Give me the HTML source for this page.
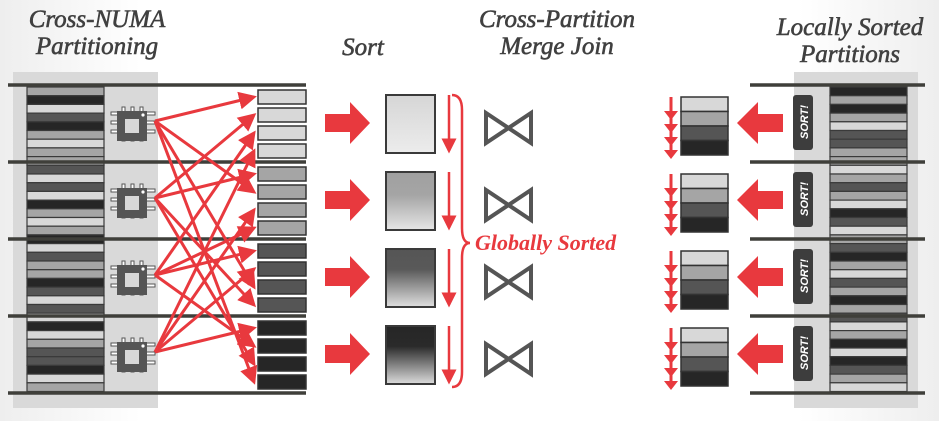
<!DOCTYPE html>
<html><head><meta charset="utf-8"><style>
html,body{margin:0;padding:0;background:#fff}
svg{display:block}
.h{font-family:"Liberation Serif",serif;font-style:italic;fill:#404040;stroke:#404040;stroke-width:0.6;font-size:25px;text-anchor:middle}
</style></head><body>
<svg id="s" width="939" height="421" viewBox="0 0 939 421" xmlns="http://www.w3.org/2000/svg">
<defs>
<linearGradient id="bg" x1="0" x2="1"><stop offset="0" stop-color="#eeeeee"/><stop offset="0.15" stop-color="#fff"/><stop offset="0.85" stop-color="#fff"/><stop offset="1" stop-color="#eeeeee"/></linearGradient>
<linearGradient id="g0" x1="0" y1="0" x2="0" y2="1"><stop offset="0" stop-color="#d6d6d6"/><stop offset="1" stop-color="#ececec"/></linearGradient>
<linearGradient id="g1" x1="0" y1="0" x2="0" y2="1"><stop offset="0" stop-color="#a0a0a0"/><stop offset="0.4" stop-color="#a5a5a5"/><stop offset="1" stop-color="#e6e6e6"/></linearGradient>
<linearGradient id="g2" x1="0" y1="0" x2="0" y2="1"><stop offset="0" stop-color="#555"/><stop offset="0.35" stop-color="#595959"/><stop offset="1" stop-color="#e0e0e0"/></linearGradient>
<linearGradient id="g3" x1="0" y1="0" x2="0" y2="1"><stop offset="0" stop-color="#262626"/><stop offset="0.35" stop-color="#2a2a2a"/><stop offset="1" stop-color="#dcdcdc"/></linearGradient>
<marker id="ah" markerWidth="6" markerHeight="6" refX="5" refY="3" orient="auto" markerUnits="strokeWidth"><path d="M0,0 L6,3 L0,6 z" fill="#e8393e"/></marker>
</defs>
<rect width="939" height="421" fill="url(#bg)"/>
<rect x="13" y="72" width="145" height="336" fill="#d9d9d9"/>
<rect x="794" y="72" width="124" height="336" fill="#d9d9d9"/>
<text class="h" x="97" y="27">Cross-NUMA</text>
<text class="h" x="97" y="54">Partitioning</text>
<text class="h" x="363" y="55">Sort</text>
<text class="h" x="557" y="27">Cross-Partition</text>
<text class="h" x="557" y="54">Merge Join</text>
<text class="h" x="850" y="35">Locally Sorted</text>
<text class="h" x="850" y="62">Partitions</text>
<g id="dyn"></g>
<text x="475" y="250" font-family="Liberation Serif,serif" font-style="italic" font-weight="bold" font-size="22" fill="#e8393e">Globally Sorted</text>
</svg>
<script>
const NS='http://www.w3.org/2000/svg';
const g=document.getElementById('dyn');
function el(t,a,p){const e=document.createElementNS(NS,t);for(const k in a)e.setAttribute(k,a[k]);(p||g).appendChild(e);return e;}
const shades=['#d8d8d8','#a5a5a5','#555555','#262626'];
const leftSeq=[1,3,0,2,3,1,0,1,1,2,0,2,0,3,1,0,1,3,0,2,1,1,3,2,0,2,0,3,0,1,2,2,3,0,1];
const rightSeq=[3,1,3,1,0,2,2,1,1,0,1,2,1,0,3,2,0,1,2,3,1,0,2,1,3,1,2,0,1,3,0,3,2,1,0];
const rowY=[85,162,239,316,393];
function stripes(x,seq,name){for(let i=0;i<seq.length;i++){const r=el('rect',{x:x,y:87+i*8.7,width:77,height:8.7,fill:shades[seq[i]],stroke:'#3a3a3a','stroke-width':1.2});

}}
stripes(27,leftSeq,'left-stripe');
stripes(830,rightSeq,'right-stripe');
for(const y of rowY){const l=el('line',{x1:8,y1:y,x2:306,y2:y,stroke:'#3f3f3a','stroke-width':3.5});


const l2=el('line',{x1:750,y1:y,x2:925,y2:y,stroke:'#3f3f3a','stroke-width':3.5});

}
for(let p=0;p<4;p++){
 const cy=rowY[p]+38;
 const cg=el('g',{});
 
 
 for(let k=0;k<3;k++){el('rect',{x:122+k*9,y:cy-16,width:3,height:34,fill:'#fff',stroke:'#555','stroke-width':1},cg);el('rect',{x:111,y:cy-11+k*9,width:44,height:3,fill:'#fff',stroke:'#555','stroke-width':1},cg);}
 el('rect',{x:117,y:cy-12,width:30,height:30,fill:'#555'},cg);
 el('rect',{x:125,y:cy-4,width:14,height:14,fill:'#d8d8d8'},cg);
 el('circle',{cx:143,cy:cy-8,r:1.6,fill:'#fff'},cg);
 for(let j=0;j<4;j++){const b=el('rect',{x:258,y:rowY[p]+5+j*18,width:48,height:14,fill:shades[p],stroke:'#333','stroke-width':1.5});
 
 }
 const a=el('path',{d:`M325 ${cy-9} h25 v-12 l20 21 l-20 21 v-12 h-25 z`,fill:'#e8393e'});
 
 
 const sb=el('rect',{x:386,y:rowY[p]+10,width:49,height:58,fill:'url(#g'+p+')',stroke:'#3a3a3a','stroke-width':2});
 
 
 const da=el('line',{x1:449,y1:rowY[p]+10,x2:449,y2:rowY[p]+66,stroke:'#e8393e','stroke-width':2.5,'marker-end':'url(#ah)'});
 
 
 const bt=el('path',{d:`M486 ${cy-10} v30 l45 -30 v30 z`,fill:'none',stroke:'#555','stroke-width':4,'stroke-linejoin':'miter'});
 
 
 const by=rowY[p]+12;
 for(let j=0;j<4;j++){const r=el('rect',{x:681,y:by+j*14.5,width:47,height:14.5,fill:shades[j],stroke:'#333','stroke-width':1.5});
 
 }
 const ra=el('line',{x1:671,y1:by,x2:671,y2:by+56,stroke:'#e8393e','stroke-width':3});
 
 
 for(let j=0;j<4;j++){el('path',{d:`M664 ${by+14+j*13} l7 9 l7 -9 z`,fill:'#e8393e'});}
 const la=el('path',{d:`M783 ${cy-9} h-25 v-12 l-21 21 l21 21 v-12 h25 z`,fill:'#e8393e'});
 
 
 const sl=el('rect',{x:793,y:by-2,width:20,height:55,rx:3,fill:'#3d3d3d'});
 
 
 const st=el('text',{x:0,y:0,transform:`translate(808 ${by+25}) rotate(-90)`,'text-anchor':'middle','font-family':'Liberation Sans,sans-serif','font-style':'italic','font-weight':'bold','font-size':11,fill:'#fff'});
 st.textContent='SORT!';
 
 
}
const targetIdx=[[0,1,2,3],[1,0,3,2],[2,3,0,1],[3,2,1,0]];
for(let p=0;p<4;p++){const sy=rowY[p]+36;
 for(let q=0;q<4;q++){const j=targetIdx[p][q];const ty=rowY[q]+12+j*18;
  const ar=el('line',{x1:155,y1:sy,x2:254,y2:ty,stroke:'#e8393e','stroke-width':3,'marker-end':'url(#ah)'});
  
  }}
const br=el('path',{d:'M452 95 Q462 95 462 110 L462 228 Q462 243 470 243 Q462 243 462 258 L462 372 Q462 387 452 387',fill:'none',stroke:'#e8393e','stroke-width':2.5});


</script>
</body></html>
